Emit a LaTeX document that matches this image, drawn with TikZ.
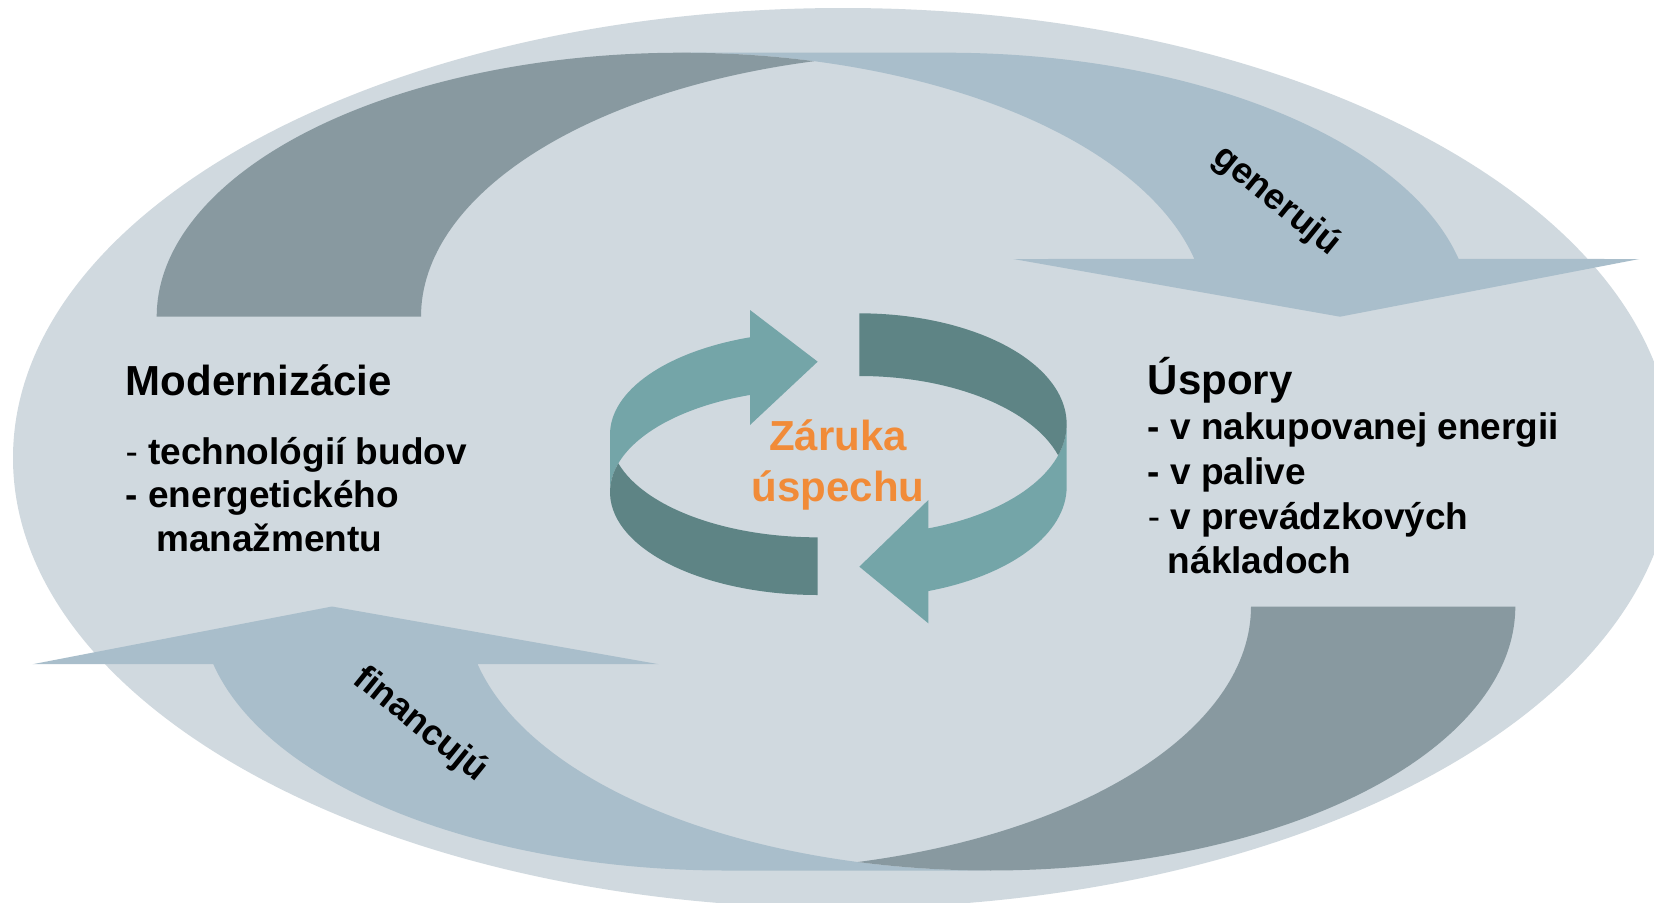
\documentclass[tikz,border=0pt]{standalone}
\usepackage{fontspec}
\setmainfont{Liberation Sans}
\usetikzlibrary{calc}
\definecolor{bgell}{RGB}{208,217,223}
\definecolor{darkarc}{RGB}{136,153,160}
\definecolor{lightarr}{RGB}{169,190,203}
\definecolor{tealL}{RGB}{116,165,168}
\definecolor{tealD}{RGB}{94,132,133}
\definecolor{orangeT}{RGB}{241,139,56}
\newcommand{\bigarrowshape}{%
  \fill[lightarr] (1340,316.7) -- (1013.3,259)
    -- ($(681.9,316.7)+(-12.63:525.2 and 264)$)
    arc[start angle=-12.63,end angle=-90,x radius=525.2,y radius=264]
    -- (946.2,52.7)
    arc[start angle=-90,end angle=-12.63,x radius=525.2,y radius=264]
    -- (1639.3,259) -- cycle;
  \fill[darkarc] ($(946.2,316.7)+(-104.57:525.2 and 264)$)
    arc[start angle=-104.57,end angle=-180,x radius=525.2,y radius=264]
    -- (156.7,316.7)
    arc[start angle=180,end angle=284.57,x radius=525.2,y radius=264]
    -- cycle;
}
\tikzset{
  head/.style={anchor=base west,inner sep=0pt,font=\fontsize{42}{50}\selectfont\bfseries},
  item/.style={anchor=base west,inner sep=0pt,font=\fontsize{37}{44}\selectfont\bfseries},
  center text/.style={anchor=base,inner sep=0pt,text=orangeT,font=\fontsize{42}{50}\selectfont\bfseries},
  arrow label/.style={inner sep=0pt,font=\fontsize{36}{42}\selectfont\bfseries}
}
\begin{document}
\begin{tikzpicture}[x=1pt,y=-1pt]
\useasboundingbox (0,0) rectangle (1654,902);
\clip (0,0) rectangle (1654,902);
\fill[white] (0,0) rectangle (1654,902);
% background ellipse
\fill[bgell] (843,458) ellipse[x radius=830, y radius=450];
% top curved arrow
\bigarrowshape
% bottom curved arrow (rotated copy)
\begin{scope}[rotate around={180:(836,461.6)}]
\bigarrowshape
\end{scope}
% central cycle: left half
\fill[tealL] (817.67,361.67) -- (750,310)
  -- ($(817.67,434.5)+(-109.02:207.67 and 102.83)$)
  arc[start angle=-109.02,end angle=-180,x radius=207.67,y radius=102.83]
  -- (610,492.17)
  arc[start angle=-180,end angle=-109.02,x radius=207.67,y radius=102.83]
  -- (750,425) -- cycle;
\fill[tealD] ($(817.67,434.5)+(163.72:207.67 and 102.83)$)
  arc[start angle=163.72,end angle=90,x radius=207.67,y radius=102.83]
  -- (817.67,595)
  arc[start angle=90,end angle=196.28,x radius=207.67,y radius=102.83]
  -- cycle;
% central cycle: right half
\fill[tealL] (859.33,566.67) -- (928.33,623.33)
  -- ($(859.33,486.67)+(70.56:207.33 and 110.67)$)
  arc[start angle=70.56,end angle=0,x radius=207.33,y radius=110.67]
  -- (1066.67,424)
  arc[start angle=0,end angle=70.56,x radius=207.33,y radius=110.67]
  -- (928.33,500) -- cycle;
\fill[tealD] ($(859.33,424)+(16.45:207.33 and 110.67)$)
  arc[start angle=16.45,end angle=-90,x radius=207.33,y radius=110.67]
  -- (859.33,376)
  arc[start angle=-90,end angle=-16.45,x radius=207.33,y radius=110.67]
  -- cycle;
% texts left
\node[head] (mod) at (125.5,395.6) {Modernizácie};
\node[item] (l1) at (125.5,464) {{\mdseries -} technológií budov};
\node[item] (l2) at (125.5,507.4) {- energetického};
\node[item] (l3) at (156,551.7) {manažmentu};
% texts right
\node[head] (usp) at (1147.6,394.5) {Úspory};
\node[item] (r1) at (1147.6,439.9) {- v nakupovanej energii};
\node[item] (r2) at (1147.6,484.2) {- v palive};
\node[item] (r3) at (1147.6,529.5) {{\mdseries -} v prevádzkových};
\node[item] (r4) at (1167.7,573.8) {nákladoch};
% center
\node[center text] (zar) at (838,450) {Záruka};
\node[center text] (usc) at (838,501) {úspechu};
% arrow labels
\node[arrow label,rotate=-39] (gen) at (1276,201) {generujú};
\node[arrow label,rotate=-39] (fin) at (420,725) {financujú};
\end{tikzpicture}
\end{document}
